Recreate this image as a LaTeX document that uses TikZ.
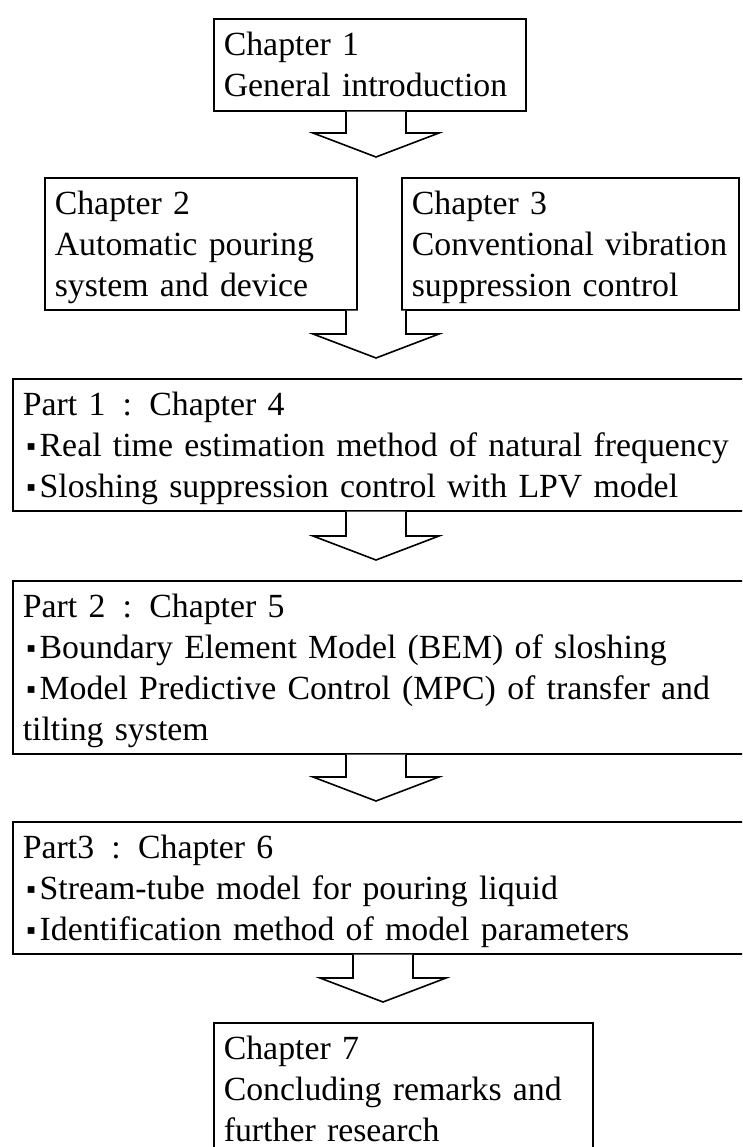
\documentclass[tikz,border=0pt]{standalone}
\usepackage{fontspec}
\setmainfont{Liberation Serif}
\newfontfamily\symfont{DejaVu Sans}
\usetikzlibrary{calc}
\newcommand{\chapfont}{\fontsize{33.8}{41}\selectfont}
% line strut: fixes first baseline and last depth
\newcommand{\ls}{\rule[-8.5pt]{0pt}{40pt}}
\newcommand{\sqb}{\makebox[0.5em]{\raisebox{5.5pt}{\symfont\fontsize{13.5}{13.5}\selectfont ▪}}}
\newcommand{\pcolon}{\makebox[1.3em]{:}}
\tikzset{
  box/.style={draw, line width=1.6pt, anchor=north west, align=left,
    inner xsep=10pt, inner ysep=0pt, font=\chapfont},
  bigarrow/.style={draw, fill=white, line width=1.6pt, line join=miter},
}
% block arrow: from node, to node, axis coordinate
\newcommand{\flowarrow}[3]{%
  \draw[bigarrow] ($(#3 |- #1.south)+(-30,0)$) -- ($(#3 |- #2.north)+(-30,-44)$)
    -- ++(-33,0) -- ($(#3 |- #2.north)+(0,-20)$) -- ($(#3 |- #2.north)+(63,-44)$)
    -- ++(-33,0) -- ($(#3 |- #1.south)+(30,0)$);}

\begin{document}
\begin{tikzpicture}[x=1pt, y=-1pt]
  \useasboundingbox (0,0) rectangle (742,1147);
  \clip (0,0) rectangle (742,1147);
  \coordinate (axis) at (376,0);
  \coordinate (axislow) at (383,0);
  \node[box, minimum height=92pt, text width=292pt] (ch1) at (213,18)
    {\ls Chapter 1\\\ls General introduction};
  \node[box, minimum height=132pt, text width=292pt] (ch2) at (44,177)
    {\ls Chapter 2\\\ls Automatic pouring\\\ls system and device};
  \node[box, minimum height=132pt, text width=317pt] (ch3) at (401,177)
    {\ls Chapter 3\\\ls Conventional vibration\\\ls suppression control};
  \node[box, minimum height=132pt, text width=745pt] (part1) at (12,378)
    {\ls Part 1\pcolon Chapter 4\\
     \ls\sqb Real time estimation method of natural frequency\\
     \ls\sqb Sloshing suppression control with LPV model};
  \node[box, minimum height=173pt, text width=745pt] (part2) at (12,580)
    {\ls Part 2\pcolon Chapter 5\\
     \ls\sqb Boundary Element Model (BEM) of sloshing\\
     \ls\sqb Model Predictive Control (MPC) of transfer and\\
     \ls tilting system};
  \node[box, minimum height=132pt, text width=745pt] (part3) at (12,821)
    {\ls Part3\pcolon Chapter 6\\
     \ls\sqb Stream-tube model for pouring liquid\\
     \ls\sqb Identification method of model parameters};
  \node[box, minimum height=132pt, text width=359pt] (ch7) at (213,1022)
    {\ls Chapter 7\\\ls Concluding remarks and\\\ls further research};
  \flowarrow{ch1}{ch2}{axis}
  \flowarrow{ch2}{part1}{axis}
  \flowarrow{part1}{part2}{axis}
  \flowarrow{part2}{part3}{axis}
  \flowarrow{part3}{ch7}{axislow}
\end{tikzpicture}
\end{document}
